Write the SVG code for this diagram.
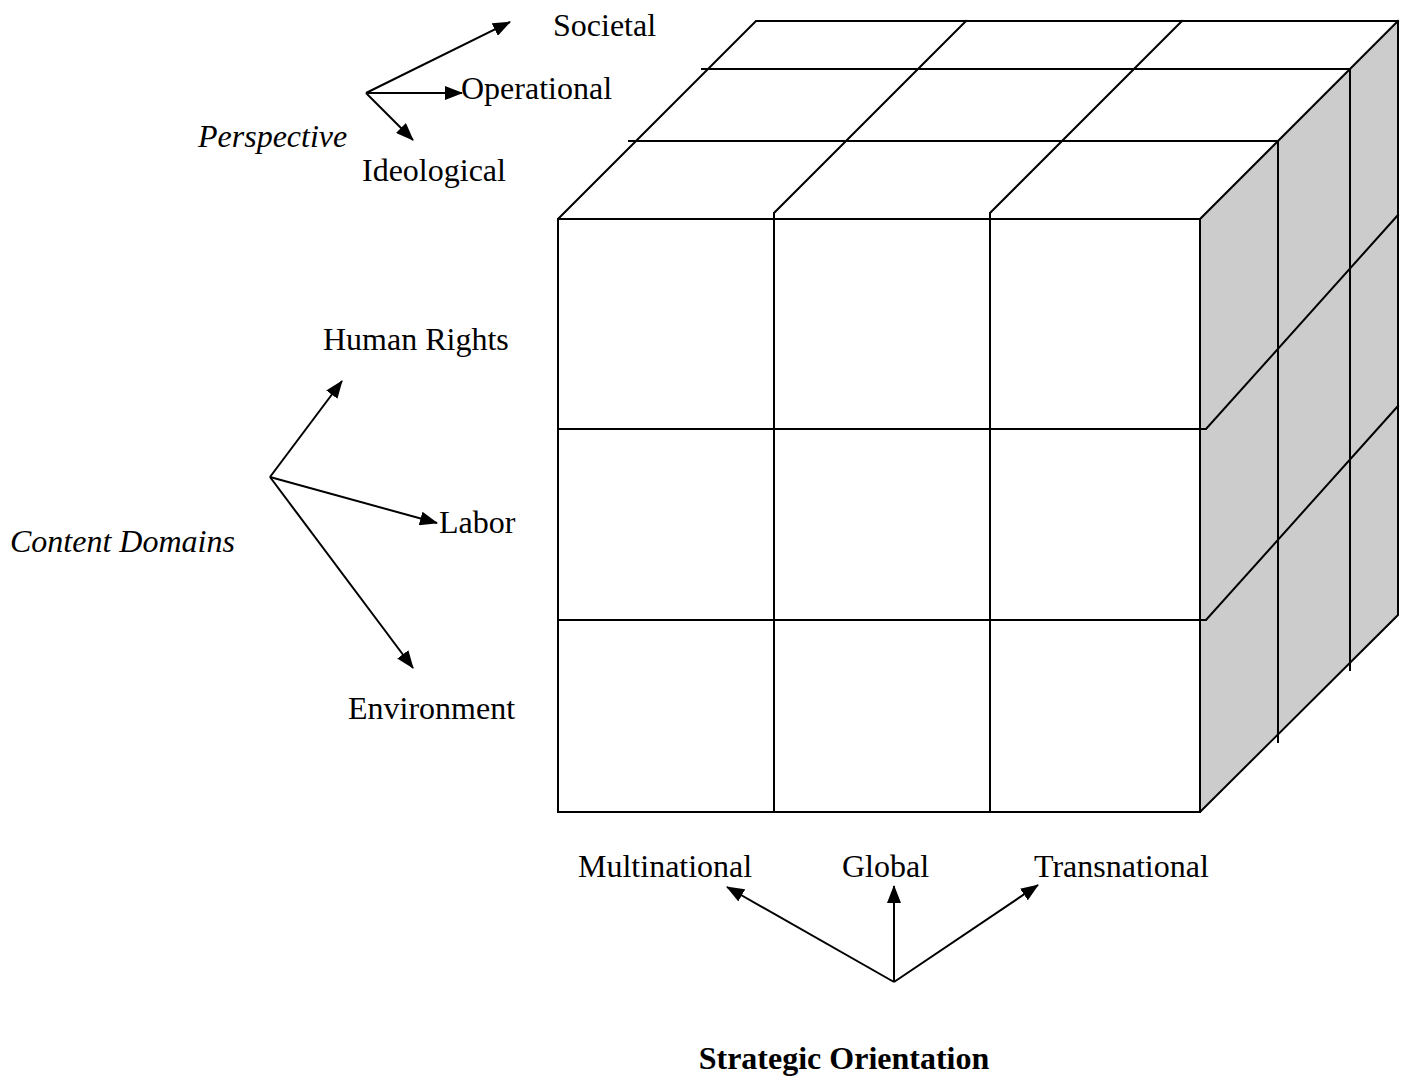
<svg xmlns="http://www.w3.org/2000/svg" width="1405" height="1082" viewBox="0 0 1405 1082">
<style>
.ln{stroke:#000;stroke-width:2;fill:none;stroke-linecap:square}
.ar{stroke:#000;stroke-width:2;fill:none}
.t{font-family:"Liberation Serif","Times New Roman",serif;font-size:32px;fill:#000}
.it{font-style:italic}
.b{font-weight:bold}
</style>
<defs>
<marker id="ah" markerWidth="18" markerHeight="14" refX="17" refY="7" orient="auto" markerUnits="userSpaceOnUse">
<path d="M0,0 L18,7 L0,14 Z" fill="#000"/>
</marker>
</defs>
<rect width="1405" height="1082" fill="#fff"/>
<g id="cube">
<polygon points="1200,219 1398,21 1398,615 1200,812" fill="#cccccc"/>
<path class="ln" d="M558,219 L756,21 L1398,21 L1398,615 L1200,812 L558,812 Z"/>
<path class="ln" d="M558,219 L1200,219 L1200,812"/>
<path class="ln" d="M1200,219 L1398,21"/>
<path class="ln" d="M702,69 L1350,69 M629,141 L1278,141"/>
<path class="ln" d="M774,812 L774,213 L966,21 M990,812 L990,213 L1182,21"/>
<path class="ln" d="M1278,141 L1278,742 M1350,69 L1350,670"/>
<path class="ln" d="M558,429 L1206,429 L1398,215 M558,620 L1206,620 L1398,406"/>
</g>
<g id="connectors">
<line class="ar" x1="366" y1="93" x2="510" y2="22" marker-end="url(#ah)"/>
<line class="ar" x1="366" y1="93" x2="462" y2="93" marker-end="url(#ah)"/>
<line class="ar" x1="366" y1="93" x2="413" y2="140" marker-end="url(#ah)"/>
<line class="ar" x1="270" y1="477" x2="342" y2="381" marker-end="url(#ah)"/>
<line class="ar" x1="270" y1="477" x2="437" y2="523" marker-end="url(#ah)"/>
<line class="ar" x1="270" y1="477" x2="413" y2="668" marker-end="url(#ah)"/>
<line class="ar" x1="894" y1="982" x2="727" y2="887" marker-end="url(#ah)"/>
<line class="ar" x1="894" y1="982" x2="894" y2="886" marker-end="url(#ah)"/>
<line class="ar" x1="894" y1="982" x2="1038" y2="885" marker-end="url(#ah)"/>
</g>
<g id="perspective">
<text class="t it" x="198" y="147">Perspective</text>
<text class="t" x="553" y="36">Societal</text>
<text class="t" x="461" y="99">Operational</text>
<text class="t" x="362" y="181">Ideological</text>
</g>
<g id="content-domains">
<text class="t it" x="10" y="552">Content Domains</text>
<text class="t" x="323" y="350">Human Rights</text>
<text class="t" x="439" y="533">Labor</text>
<text class="t" x="348" y="719">Environment</text>
</g>
<g id="strategic-orientation">
<text class="t b" x="844" y="1069" text-anchor="middle">Strategic Orientation</text>
<text class="t" x="578" y="877">Multinational</text>
<text class="t" x="842" y="877">Global</text>
<text class="t" x="1034" y="877">Transnational</text>
</g>
</svg>
